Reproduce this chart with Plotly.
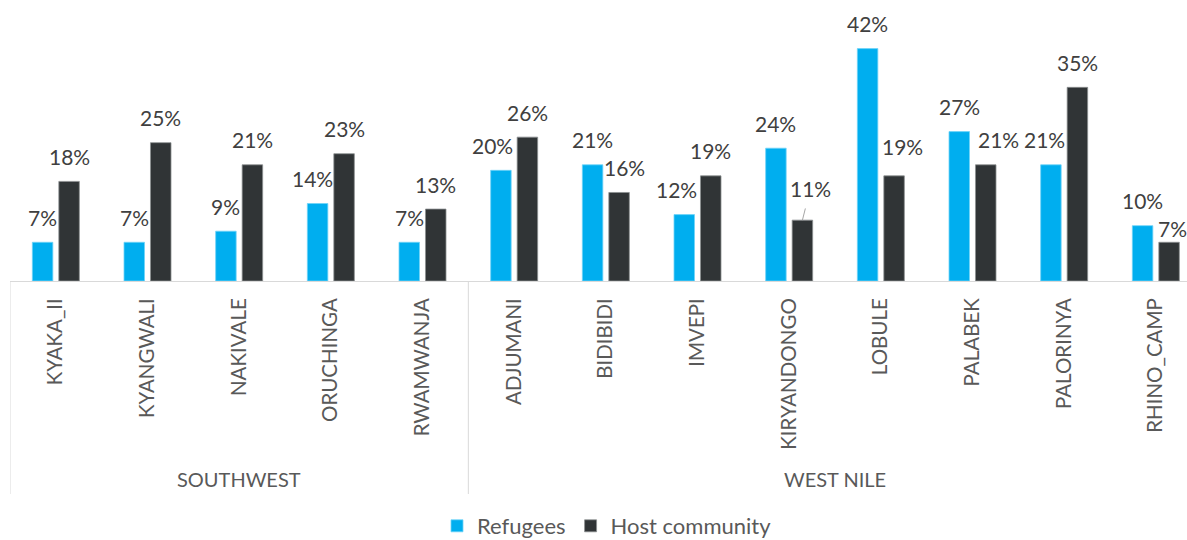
import plotly.graph_objects as go

# Share of respondents by settlement, grouped by region
regions = ["SOUTHWEST"] * 5 + ["WEST NILE"] * 8
settlements = [
    "KYAKA_II", "KYANGWALI", "NAKIVALE", "ORUCHINGA", "RWAMWANJA",
    "ADJUMANI", "BIDIBIDI", "IMVEPI", "KIRYANDONGO", "LOBULE",
    "PALABEK", "PALORINYA", "RHINO_CAMP",
]
refugees = [0.07, 0.07, 0.09, 0.14, 0.07, 0.20, 0.21, 0.12, 0.24, 0.42, 0.27, 0.21, 0.10]
host_community = [0.18, 0.25, 0.21, 0.23, 0.13, 0.26, 0.16, 0.19, 0.11, 0.19, 0.21, 0.35, 0.07]

series = [
    ("Refugees", refugees, "#00AEEF", "#6FD3F7"),
    ("Host community", host_community, "#303436", "#8C8F91"),
]

# Layout geometry
W, H = 1187, 540
M_L, M_R, M_T, M_B = 10, 0, 32, 259
X_RANGE = [-0.5, 12.34]
Y_RANGE = [0, 0.45]
BARGAP, BARGROUPGAP = 0.422, 0.226
FONT = "Lato"
LABEL_COLOR = "#404040"
AXIS_COLOR = "#595959"
GRID_COLOR = "#D9D9D9"
LABEL_SIZE = 21

plot_w = W - M_L - M_R
plot_h = H - M_T - M_B
unit_px = plot_w / (X_RANGE[1] - X_RANGE[0])
slot_px = unit_px * (1 - BARGAP) / 2

# Data-label nudges (dx px, height of label centre above bar top in px)
DEFAULT_LIFT = 25
nudges = {
    (0, "ORUCHINGA"): (-5, DEFAULT_LIFT),
    (0, "ADJUMANI"): (-8, DEFAULT_LIFT),
    (1, "BIDIBIDI"): (5, DEFAULT_LIFT),
    (0, "IMVEPI"): (-8, DEFAULT_LIFT),
    (1, "LOBULE"): (8, 29),
    (1, "PALABEK"): (13, DEFAULT_LIFT),
    (0, "PALORINYA"): (-6, DEFAULT_LIFT),
    (1, "RHINO_CAMP"): (3, 14),
}
leader_labels = {(1, "KIRYANDONGO"): (8, 31.5)}

fig = go.Figure()
annotations = []
for si, (name, vals, color, edge) in enumerate(series):
    fig.add_trace(go.Bar(
        name=name,
        x=list(range(len(settlements))),
        y=vals,
        marker=dict(color=color, line=dict(color=edge, width=0.8)),
        hoverinfo="skip",
    ))
    base_shift = (si - 0.5) * slot_px
    for ci, (cat, v) in enumerate(zip(settlements, vals)):
        text = f"{round(v * 100)}%"
        if (si, cat) in leader_labels:
            dx, lift = leader_labels[(si, cat)]
            annotations.append(dict(
                x=ci, y=v, xref="x", yref="y", text=text,
                xshift=base_shift, showarrow=True, arrowhead=0,
                arrowwidth=1, arrowcolor="#A6A6A6",
                ax=dx, ay=-lift, standoff=0, startstandoff=6,
                font=dict(family=FONT, size=LABEL_SIZE, color=LABEL_COLOR),
            ))
            continue
        dx, lift = nudges.get((si, cat), (0, DEFAULT_LIFT))
        annotations.append(dict(
            x=ci, y=v, xref="x", yref="y", text=text,
            xshift=base_shift + dx, yshift=lift, yanchor="middle",
            showarrow=False,
            font=dict(family=FONT, size=LABEL_SIZE, color=LABEL_COLOR),
        ))

# Region labels and dividers beneath the settlement names
def to_paper(py):
    return (H - M_B - py) / plot_h

region_names = []
for r in regions:
    if r not in region_names:
        region_names.append(r)

shapes = []
start = 0
for r in region_names:
    n = regions.count(r)
    mid = start + (n - 1) / 2
    annotations.append(dict(
        x=mid, y=to_paper(479), xref="x", yref="paper", text=r,
        showarrow=False, yanchor="middle",
        font=dict(family=FONT, size=20, color=AXIS_COLOR),
    ))
    shapes.append(dict(
        type="line", xref="x", yref="paper",
        x0=start - 0.5, x1=start - 0.5, y0=0, y1=to_paper(494),
        line=dict(color=GRID_COLOR, width=1),
    ))
    start += n

fig.update_layout(
    width=W, height=H,
    margin=dict(l=M_L, r=M_R, t=M_T, b=M_B, pad=0, autoexpand=False),
    paper_bgcolor="white", plot_bgcolor="white",
    barmode="group", bargap=BARGAP, bargroupgap=BARGROUPGAP,
    font=dict(family=FONT, color=AXIS_COLOR),
    showlegend=True,
    legend=dict(
        orientation="h", xref="container", yref="container",
        x=607 / W, xanchor="center",
        y=(H - 526) / H, yanchor="middle",
        font=dict(family=FONT, size=22, color=AXIS_COLOR),
        itemwidth=30, traceorder="normal",
    ),
    annotations=annotations,
    shapes=shapes,
)
fig.update_xaxes(
    range=X_RANGE,
    tickmode="array",
    tickvals=list(range(len(settlements))),
    ticktext=settlements,
    tickangle=-90,
    tickfont=dict(family=FONT, size=20.5, color=AXIS_COLOR),
    ticks="",
    ticklabelstandoff=8,
    showline=True, linecolor=GRID_COLOR, linewidth=1,
    showgrid=False, zeroline=False,
    fixedrange=True,
)
fig.update_yaxes(
    range=Y_RANGE, visible=False, showgrid=False, zeroline=False,
    fixedrange=True,
)

fig.write_html("out.html", config={"displayModeBar": False})
